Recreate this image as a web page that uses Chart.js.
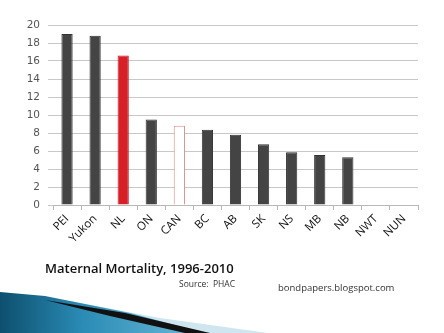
<!DOCTYPE html>
<html>
<head>
<meta charset="utf-8">
<script src="https://cdn.jsdelivr.net/npm/chart.js@4"></script>
<style>
  body { margin: 0; background: #fff; width: 444px; height: 333px; overflow: hidden; position: relative; font-family: "Open Sans", sans-serif; }
  #wrap { position: absolute; left: 0; top: 0; width: 444px; height: 262px; }
  .title { position: absolute; left: 45px; top: 259px; font-size: 13px; font-weight: 600; color: #111; }
  .src { position: absolute; left: 179px; top: 278px; font-size: 8.5px; color: #333; }
  .blog { position: absolute; left: 278px; top: 281px; font-size: 9.5px; color: #333; }
  svg { position: absolute; left: 0; top: 0; }
</style>
</head>
<body>
<svg width="444" height="333">
  <defs>
    <linearGradient id="blue" x1="0" y1="0" x2="1" y2="0">
      <stop offset="0" stop-color="#0d4f6e"/>
      <stop offset="0.4" stop-color="#2a8bb5"/>
      <stop offset="1" stop-color="#6dbbd9"/>
    </linearGradient>
  </defs>
  <polygon points="0,296 70,301 160,318 268,333 0,333" fill="#cfe6f0"/>
  <polygon points="0,292 45,296 130,313 205,333 0,333" fill="url(#blue)"/>
  <polygon points="45,300 125,313 210,333 185,333 110,316" fill="#111"/>
</svg>
<div id="wrap"><canvas id="chart"></canvas></div>
<div class="title">Maternal Mortality, 1996-2010</div>
<div class="src">Source:&nbsp; PHAC</div>
<div class="blog">bondpapers.blogspot.com</div>
<script>
const regions = ["PEI", "Yukon", "NL", "ON", "CAN", "BC", "AB", "SK", "NS", "MB", "NB", "NWT", "NUN"];
const mortality = [19.0, 18.8, 16.6, 9.5, 8.8, 8.35, 7.8, 6.75, 5.85, 5.55, 5.3, 0, 0];
const yTicks = [0, 2, 4, 6, 8, 10, 12, 14, 16, 18, 20];

const fills = regions.map(r => r === "NL" ? "#d71f28" : r === "CAN" ? "#ffffff" : "#444444");
const borders = regions.map(r => r === "NL" ? "#c01a22" : r === "CAN" ? "#d88c8c" : "#333333");

new Chart(document.getElementById("chart"), {
    type: "bar",
    data: {
        labels: regions,
        datasets: [{
            data: mortality,
            backgroundColor: fills,
            borderColor: borders,
            borderWidth: 1,
            categoryPercentage: 1,
            barPercentage: 0.4
        }]
    },
    options: {
        responsive: true,
        maintainAspectRatio: false,
        animation: false,
        layout: { padding: { left: 0, right: 26, top: 25, bottom: 0 } },
        plugins: { legend: { display: false }, tooltip: { enabled: false } },
        scales: {
            x: {
                offset: true,
                grid: { offset: true, drawOnChartArea: false, drawTicks: true, tickLength: 5, color: "#b8b8b8" },
                border: { color: "#b8b8b8" },
                ticks: { minRotation: 45, maxRotation: 45, color: "#111", font: { family: "Open Sans", size: 11.5 }, padding: 2 },
                afterFit: s => { s.height = 57; }
            },
            y: {
                min: 0,
                max: 20,
                afterBuildTicks: s => { s.ticks = yTicks.map(v => ({ value: v })); },
                grid: { color: "#c8c8c8", tickLength: 5, lineWidth: 1 },
                border: { display: false },
                ticks: { color: "#555", font: { family: "DejaVu Sans", size: 10.5 }, padding: 8 },
                afterFit: s => { s.width = 53; }
            }
        }
    }
});
</script>
</body>
</html>
